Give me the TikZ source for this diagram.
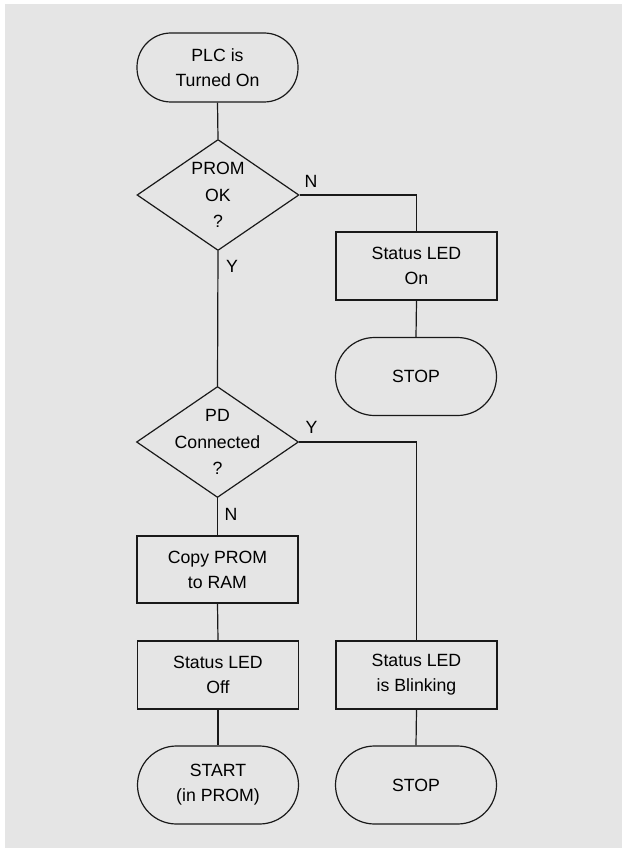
\documentclass[tikz,border=0pt]{standalone}
\usepackage{fontspec}
\setmainfont{Liberation Sans}
\usetikzlibrary{shapes.geometric}
\definecolor{bggray}{HTML}{E5E5E5}
\begin{document}
\begin{tikzpicture}[x=1pt,y=-1pt,
  every node/.style={font=\fontsize{17.7}{25}\selectfont, align=center, inner sep=0pt},
  conn/.style={line width=1.2pt, draw=black!90},
  box/.style={draw=black!90, line width=1.2pt, rectangle, minimum width=161pt, minimum height=68pt},
  term/.style={draw=black!90, line width=1.2pt, rectangle, rounded corners=34pt, minimum width=161pt, minimum height=69pt},
  termb/.style={term, rounded corners=39pt, minimum height=78pt},
  dec/.style={draw=black!90, line width=1.2pt, diamond, minimum width=162pt, minimum height=111pt},
  yn/.style={font=\fontsize{17.7}{20}\selectfont}
]
\useasboundingbox (0,0) rectangle (622,848);
\fill[bggray] (5,4) rectangle (622,848);

\node[term] (start) at (217.5,67.5) {PLC is\\Turned On};
\node[dec, label={[align=center, font=\fontsize{17.7}{26.5}\selectfont]center:PROM\\OK\\?}] (d1) at (218,195) {};
\node[box] (ledon) at (416.5,266) {Status LED\\On};
\node[termb] (stop1) at (416,376.5) {STOP};
\node[dec, label={[align=center, font=\fontsize{17.7}{26.5}\selectfont]center:PD\\Connected\\?}] (d2) at (217.5,442) {};
\node[box, minimum height=67pt] (copy) at (217.5,569.5) {Copy PROM\\to RAM};
\node[box] (ledoff) at (218,675) {Status LED\\Off};
\node[box] (blink) at (416.5,675) {Status LED\\is Blinking};
\node[termb] (startp) at (218,785) {START\\(in PROM)};
\node[termb] (stop2) at (416,785) {STOP};

\node[yn] (n1) at (311,181.5) {N};
\node[yn] (y1) at (232,266.5) {Y};
\node[yn] (y2) at (311.5,427.5) {Y};
\node[yn] (n2) at (231,514) {N};

\draw[conn] (start.south) -- (d1.north);
\draw[conn] (d1.east) -| (ledon.north);
\draw[conn] (ledon.south) -- (stop1.north);
\draw[conn] (d1.south) -- (d2.north);
\draw[conn] (d2.east) -| (blink.north);
\draw[conn] (d2.south) -- (copy.north);
\draw[conn] (copy.south) -- (ledoff.north);
\draw[conn] (ledoff.south) -- (startp.north);
\draw[conn] (blink.south) -- (stop2.north);
\end{tikzpicture}
\end{document}
